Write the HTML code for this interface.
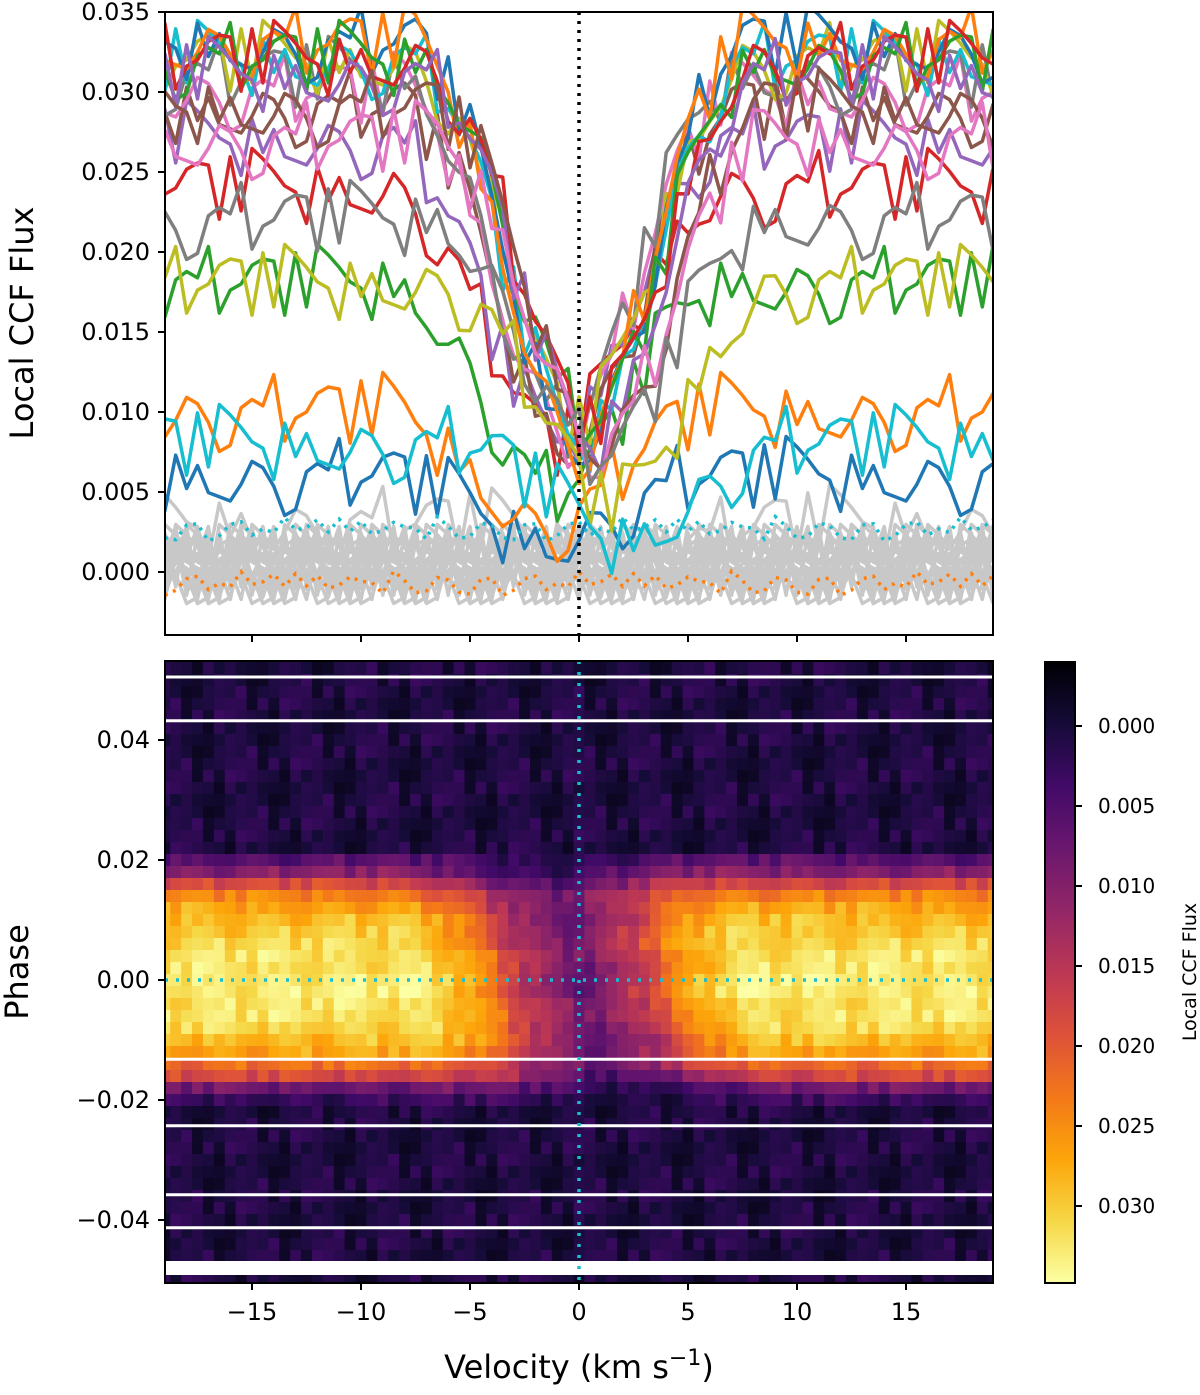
<!DOCTYPE html>
<html><head><meta charset="utf-8"><style>
body{margin:0;background:#fff}
text{font-family:"DejaVu Sans","Liberation Sans",sans-serif;fill:#000}
</style></head><body>
<svg id="fig" width="1200" height="1390" viewBox="0 0 1200 1390" xmlns="http://www.w3.org/2000/svg">
<defs>
<clipPath id="ctop"><rect x="165" y="12" width="828" height="623"/></clipPath>
<clipPath id="cbot"><rect x="165" y="661" width="828" height="622"/></clipPath>
<linearGradient id="cbgrad" x1="0" y1="0" x2="0" y2="1">
<stop offset="0" stop-color="#000004"/><stop offset="0.1" stop-color="#160b39"/><stop offset="0.2" stop-color="#420a68"/><stop offset="0.3" stop-color="#6a176e"/><stop offset="0.4" stop-color="#932667"/><stop offset="0.5" stop-color="#bc3754"/><stop offset="0.6" stop-color="#dd513a"/><stop offset="0.7" stop-color="#f37819"/><stop offset="0.8" stop-color="#fca50a"/><stop offset="0.9" stop-color="#f6d746"/><stop offset="1" stop-color="#fcffa4"/>
</linearGradient>
</defs>
<g id="topPlot"></g>
<g id="botPlot"></g>
<g id="cbar"></g>
</svg>
<script>
const velocities = [];
for (let k = 0; k <= 76; k++) velocities.push(-19 + k * 0.5);
const phases = [0.052,0.050,0.048,0.046,0.044,0.042,0.040,0.038,0.036,0.034,0.032,0.030,0.028,0.026,0.024,0.022,
0.020,0.018,0.016,0.014,0.012,0.010,0.008,0.006,0.004,0.002,0.000,-0.002,-0.004,-0.006,-0.008,-0.010,-0.012,-0.014,-0.016,-0.018,-0.020,
-0.022,-0.024,-0.026,-0.028,-0.030,-0.032,-0.034,-0.036,-0.038,-0.040,-0.042,-0.044,-0.046,-0.048,-0.050];
const continuum = [0.0005,0.0005,0.0005,0.0005,0.0005,0.0005,0.0005,0.0005,0.0005,0.0005,0.0005,0.0005,0.0005,0.0005,0.0005,0.0005,
0.006,0.010,0.018,0.024,0.027,0.029,0.030,0.031,0.032,0.032,0.033,0.033,0.032,0.032,0.031,0.029,0.027,0.022,0.018,0.008,0.003,
0.0005,0.0005,0.0005,0.0005,0.0005,0.0005,0.0005,0.0005,0.0005,0.0005,0.0005,0.0005,0.0005,0.0005,0.0005];
const coreFlux = [0.0005,0.0005,0.0005,0.0005,0.0005,0.0005,0.0005,0.0005,0.0005,0.0005,0.0005,0.0005,0.0005,0.0005,0.0005,0.0005,
0.002,0.003,0.005,0.008,0.008,0.008,0.009,0.009,0.009,0.008,0.008,0.008,0.009,0.009,0.008,0.008,0.008,0.007,0.004,0.002,0.001,
0.0005,0.0005,0.0005,0.0005,0.0005,0.0005,0.0005,0.0005,0.0005,0.0005,0.0005,0.0005,0.0005,0.0005,0.0005];
const lineShift = [0,0,0,0,0,0,0,0,0,0,0,0,0,0,0,0,
-1.5,-1.5,-1,-1,-0.8,-0.6,-0.4,-0.3,-0.1,0,0.1,0.2,0.3,0.5,0.6,0.8,1,1.2,1.5,2,2,
0,0,0,0,0,0,0,0,0,0,0,0,0,0,0];
const dipShape = [1,0.98,0.94,0.88,0.8,0.71,0.62,0.52,0.42,0.33,0.25,0.17,0.11,0.06,0.03,0];
const noise = [0.8,-1.2,0.3,1.5,-0.6,-1.9,0.9,0.1,-0.4,1.8,-1.1,0.5,-1.6,1.2,-0.2,0.7,-1.4,1.9,-0.8,0.2,1.1,-1.7,0.4,-0.3,1.4,-1.0,0.6,-1.5,1.0,-0.5,0.0];
const gapPhases = [0.0505,0.0432,-0.0132,-0.0243,-0.0358,-0.0413];
const xTicks = [-15,-10,-5,0,5,10,15];
const xTickLabels = ["\u221215","\u221210","\u22125","0","5","10","15"];
const yTopTicks = [0,0.005,0.010,0.015,0.020,0.025,0.030,0.035];
const yTopLabels = ["0.000","0.005","0.010","0.015","0.020","0.025","0.030","0.035"];
const phaseTicks = [-0.04,-0.02,0,0.02,0.04];
const phaseLabels = ["\u22120.04","\u22120.02","0.00","0.02","0.04"];
const cbTicks = [0,0.005,0.010,0.015,0.020,0.025,0.030];
const cbLabels = ["0.000","0.005","0.010","0.015","0.020","0.025","0.030"];
const tab10 = ["#1f77b4","#ff7f0e","#2ca02c","#d62728","#9467bd","#8c564b","#e377c2","#7f7f7f","#bcbd22","#17becf"];

const NS = "http://www.w3.org/2000/svg";
const X = v => 579 + (v) * 21.8;
const Yt = f => 572 - f * 16000;
const Yb = p => 980 - p * 6000;
const Yc = f => 726 + f * 16000;
const vmin = -0.004, vmax = 0.0348;
function el(tag, attrs, parent) { const e = document.createElementNS(NS, tag); for (const k in attrs) e.setAttribute(k, attrs[k]); parent.appendChild(e); return e; }
function dipAt(v) { const k = Math.min(15, Math.round(Math.abs(v) * 2)); return dipShape[k]; }
function flux(r, i) {
  const v = velocities[i];
  const base = continuum[r] - (continuum[r] - coreFlux[r]) * dipAt(v - lineShift[r]);
  return base + noise[(i * 7 + r * 11) % 31] * 0.0013;
}
const stops = [[0,[0,0,4]],[0.1,[22,11,57]],[0.2,[66,10,104]],[0.3,[106,23,110]],[0.4,[147,38,103]],[0.5,[188,55,84]],[0.6,[221,81,58]],[0.7,[243,120,25]],[0.8,[252,165,10]],[0.9,[246,215,70]],[1,[252,255,164]]];
function inferno(t) {
  t = Math.max(0, Math.min(1, t));
  for (let k = 1; k < stops.length; k++) if (t <= stops[k][0]) {
    const a = stops[k-1], b = stops[k], u = (t - a[0]) / (b[0] - a[0]);
    const c = a[1].map((x, j) => Math.round(x + (b[1][j] - x) * u));
    return `rgb(${c[0]},${c[1]},${c[2]})`;
  }
  return "rgb(252,255,164)";
}

// ---- top panel
const topG = document.getElementById("topPlot");
const tl = el("g", {"clip-path": "url(#ctop)"}, topG);
let ci = 0;
const order = [];
phases.forEach((p, r) => { if (continuum[r] < 0.004) order.push(r); });
phases.forEach((p, r) => { if (continuum[r] >= 0.004) order.push(r); });
order.forEach(r => {
  const pts = velocities.map((v, i) => X(v).toFixed(1) + "," + Yt(flux(r, i)).toFixed(1)).join(" ");
  const inT = continuum[r] >= 0.004;
  const ln = el("polyline", {points: pts, fill: "none", stroke: inT ? tab10[(ci++) % 10] : "#c8c8c8", "stroke-width": 3.5, "stroke-linejoin": "round"}, tl);
  
  
});
[[16, "#17becf", 0.0022], [36, "#ff7f0e", -0.0012]].forEach(([r, col, off]) => {
  const pts = velocities.map((v, i) => X(v).toFixed(1) + "," + Yt(0.0005 + off + noise[(i * 5 + r) % 31] * 0.0004).toFixed(1)).join(" ");
  const ln = el("polyline", {points: pts, fill: "none", stroke: col, "stroke-width": 3.5, "stroke-dasharray": "3,6"}, tl);
  
  
});
const vz = el("line", {x1: X(0), x2: X(0), y1: 12, y2: 635, stroke: "#000", "stroke-width": 3.5, "stroke-dasharray": "3,6"}, topG);


el("rect", {x: 165, y: 12, width: 828, height: 623, fill: "none", stroke: "#000", "stroke-width": 2}, topG);
xTicks.forEach(v => el("line", {x1: X(v), x2: X(v), y1: 635, y2: 642, stroke: "#000", "stroke-width": 2}, topG));
yTopTicks.forEach((f, k) => {
  el("line", {x1: 158, x2: 165, y1: Yt(f), y2: Yt(f), stroke: "#000", "stroke-width": 2}, topG);
  const t = el("text", {x: 150, y: Yt(f) + 8, "text-anchor": "end", "font-size": 24}, topG);
  t.textContent = yTopLabels[k];
  
  
});
const ytt = el("text", {x: 0, y: 0, "text-anchor": "middle", "font-size": 32, transform: "translate(33,323) rotate(-90)"}, topG);
ytt.textContent = "Local CCF Flux";



// ---- heatmap
const botG = document.getElementById("botPlot");
const hg = el("g", {"clip-path": "url(#cbot)"}, botG);
phases.forEach((p, r) => {
  velocities.forEach((v, i) => {
    const f = flux(r, i);
    const c = el("rect", {x: (X(v) - 5.45).toFixed(2), y: (Yb(p) - 6).toFixed(2), width: 11.4, height: 12.4, fill: inferno((f - vmin) / (vmax - vmin))}, hg);
    
    
  });
});
gapPhases.forEach(p => {
  const g = el("line", {x1: 165, x2: 993, y1: Yb(p), y2: Yb(p), stroke: "#fff", "stroke-width": 3}, hg);
  
  
});
el("rect", {x: 165, y: 1261, width: 828, height: 14, fill: "#fff"}, hg);
const cv = el("line", {x1: X(0), x2: X(0), y1: 661, y2: 1283, stroke: "#17becf", "stroke-width": 3.5, "stroke-dasharray": "3,8"}, botG);


const ch = el("line", {x1: 165, x2: 993, y1: Yb(0), y2: Yb(0), stroke: "#17becf", "stroke-width": 3.5, "stroke-dasharray": "3,8"}, botG);


el("rect", {x: 165, y: 661, width: 828, height: 622, fill: "none", stroke: "#000", "stroke-width": 2}, botG);
xTicks.forEach((v, k) => {
  el("line", {x1: X(v), x2: X(v), y1: 1283, y2: 1290, stroke: "#000", "stroke-width": 2}, botG);
  const t = el("text", {x: X(v), y: 1320, "text-anchor": "middle", "font-size": 24}, botG);
  t.textContent = xTickLabels[k];
  
  
});
phaseTicks.forEach((p, k) => {
  el("line", {x1: 158, x2: 165, y1: Yb(p), y2: Yb(p), stroke: "#000", "stroke-width": 2}, botG);
  const t = el("text", {x: 150, y: Yb(p) + 8, "text-anchor": "end", "font-size": 24}, botG);
  t.textContent = phaseLabels[k];
  
  
});
const xt = el("text", {x: 579, y: 1378, "text-anchor": "middle", "font-size": 32}, botG);
xt.innerHTML = 'Velocity (km s<tspan dy="-13" font-size="22">\u22121</tspan><tspan dy="13">)</tspan>';


const pt = el("text", {x: 0, y: 0, "text-anchor": "middle", "font-size": 32, transform: "translate(28,972) rotate(-90)"}, botG);
pt.textContent = "Phase";



// ---- colorbar
const cbG = document.getElementById("cbar");
el("rect", {x: 1045, y: 662, width: 30, height: 621, fill: "url(#cbgrad)", stroke: "#000", "stroke-width": 2}, cbG);
cbTicks.forEach((f, k) => {
  el("line", {x1: 1075, x2: 1082, y1: Yc(f), y2: Yc(f), stroke: "#000", "stroke-width": 2}, cbG);
  const t = el("text", {x: 1098, y: Yc(f) + 7, "font-size": 20}, cbG);
  t.textContent = cbLabels[k];
  
  
});
const cbt = el("text", {x: 0, y: 0, "text-anchor": "middle", "font-size": 19, transform: "translate(1196,972) rotate(-90)"}, cbG);
cbt.textContent = "Local CCF Flux";


</script>
</body></html>
